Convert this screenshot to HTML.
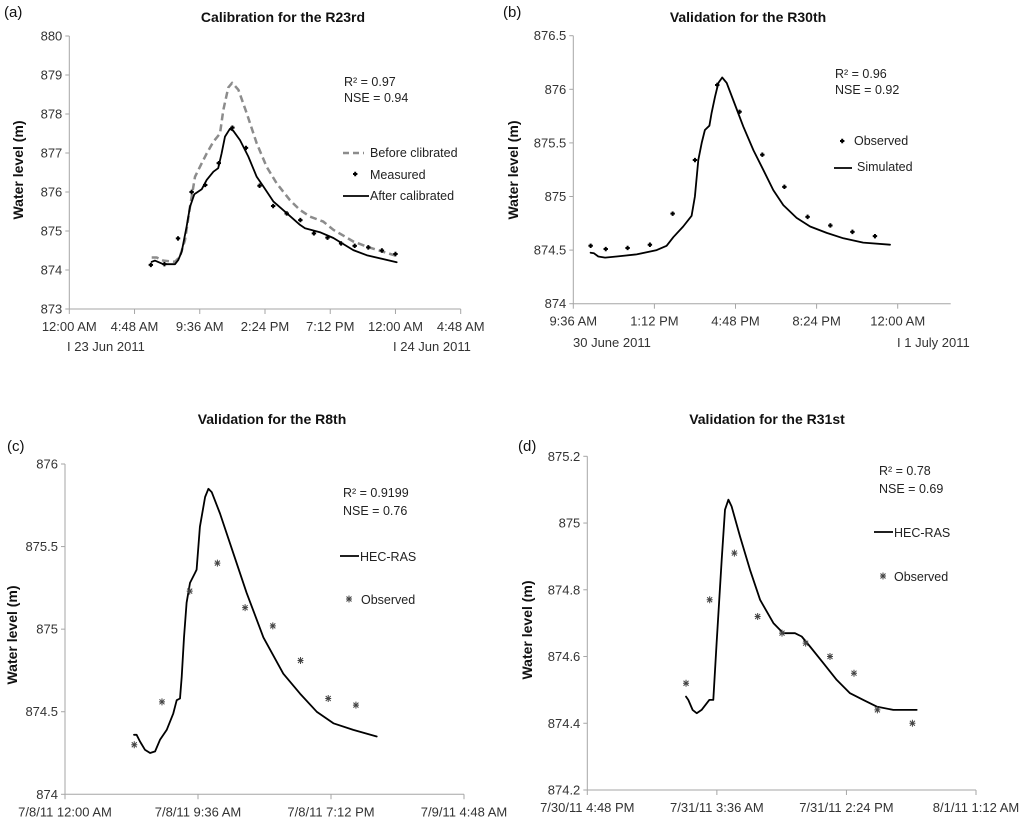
<!DOCTYPE html>
<html><head><meta charset="utf-8"><style>
body{margin:0;background:#fff}
svg{display:block;font-family:"Liberation Sans",Arial,sans-serif}
.tk{font-size:13px;fill:#333}
.ti{font-size:14px;font-weight:bold;fill:#111}
.yt{font-size:14px;font-weight:bold;fill:#111}
.lg{font-size:12.5px;fill:#222}
</style></head><body>
<svg id="chart" width="1024" height="820" viewBox="0 0 1024 820"></svg>
<script>
// Panel (a)
const aXTicks=["12:00 AM","4:48 AM","9:36 AM","2:24 PM","7:12 PM","12:00 AM","4:48 AM"];
const aYTicks=[873,874,875,876,877,878,879,880];
const aMeasH=[6,7,8,9,10,11,12,13,14,15,16,17,18,19,20,21,22,23,24];
const aMeasV=[874.13,874.15,874.81,876.0,876.18,876.74,877.65,877.13,876.16,875.64,875.45,875.28,874.94,874.83,874.68,874.62,874.58,874.50,874.41];
const aAfterH=[6.06,6.30,6.92,7.78,8.02,8.27,8.63,8.88,9.20,9.74,10.11,10.60,10.96,11.21,11.46,11.82,12.07,12.56,13.17,13.79,14.28,15.01,15.99,16.97,17.34,18.44,19.43,20.90,21.88,24.09];
const aAfterV=[874.21,874.24,874.15,874.15,874.26,874.47,875.11,875.62,875.94,876.07,876.31,876.52,876.61,876.99,877.42,877.62,877.57,877.33,876.91,876.39,876.14,875.76,875.46,875.16,875.07,874.97,874.82,874.51,874.38,874.20];
const aBeforeH=[6.06,6.43,6.92,7.78,8.14,8.51,8.88,9.25,9.62,10.11,10.60,11.09,11.33,11.70,11.99,12.44,13.05,13.79,14.52,15.26,16.24,16.97,17.71,18.69,19.43,20.90,21.88,24.09];
const aBeforeV=[874.32,874.32,874.24,874.21,874.34,874.77,875.62,876.39,876.65,876.99,877.29,877.50,878.10,878.68,878.80,878.62,878.02,877.25,876.65,876.22,875.79,875.54,875.37,875.24,875.03,874.73,874.60,874.36];
// Panel (b)
const bXTicks=["9:36 AM","1:12 PM","4:48 PM","8:24 PM","12:00 AM"];
const bYTicks=[874,874.5,875,875.5,876,876.5];
const bObsH=[0.77,1.44,2.41,3.40,4.41,5.40,6.39,7.38,8.39,9.37,10.40,11.41,12.39,13.39];
const bObsV=[874.54,874.51,874.52,874.55,874.84,875.34,876.04,875.79,875.39,875.09,874.81,874.73,874.67,874.63];
const bSimH=[0.77,0.92,1.11,1.41,1.92,2.81,3.70,4.14,4.44,4.88,5.25,5.40,5.55,5.70,5.84,6.04,6.14,6.29,6.44,6.61,6.81,7.10,7.55,8.00,8.43,8.88,9.32,9.91,10.51,11.25,11.99,12.87,14.06];
const bSimV=[874.476,874.47,874.44,874.43,874.44,874.46,874.50,874.54,874.62,874.72,874.82,875.00,875.34,875.50,875.62,875.66,875.78,875.93,876.06,876.11,876.06,875.90,875.65,875.43,875.25,875.06,874.92,874.80,874.72,874.66,874.61,874.57,874.55];
// Panel (c)
const cXTicks=["7/8/11 12:00 AM","7/8/11 9:36 AM","7/8/11 7:12 PM","7/9/11 4:48 AM"];
const cYTicks=[874,874.5,875,875.5,876];
const cObsH=[5,7,9,11,13,15,17,19,21];
const cObsV=[874.30,874.56,875.23,875.40,875.13,875.02,874.81,874.58,874.54];
const cSimH=[4.98,5.17,5.41,5.77,6.14,6.50,6.86,7.34,7.82,8.06,8.30,8.42,8.59,8.78,9.02,9.38,9.50,9.74,10.11,10.35,10.59,11.19,12.15,13.11,14.32,15.76,16.96,18.17,19.37,20.81,22.50];
const cSimV=[874.36,874.36,874.32,874.27,874.25,874.26,874.33,874.39,874.49,874.57,874.58,874.71,874.95,875.16,875.28,875.34,875.36,875.62,875.80,875.85,875.83,875.70,875.46,875.22,874.95,874.73,874.61,874.50,874.43,874.39,874.35];
// Panel (d)
const dXTicks=["7/30/11 4:48 PM","7/31/11 3:36 AM","7/31/11 2:24 PM","8/1/11 1:12 AM"];
const dYTicks=[874.2,874.4,874.6,874.8,875,875.2];
const dObsH=[8.23,10.20,12.26,14.20,16.23,18.20,20.23,22.23,24.18,27.10];
const dObsV=[874.52,874.77,874.91,874.72,874.67,874.64,874.60,874.55,874.44,874.40];
const dSimH=[8.23,8.42,8.78,9.12,9.53,10.17,10.50,10.78,11.20,11.48,11.76,12.03,12.73,13.56,14.40,15.51,16.34,17.31,17.87,18.56,19.68,20.79,21.90,23.01,24.12,25.51,27.46];
const dSimV=[874.48,874.47,874.44,874.43,874.44,874.47,874.47,874.64,874.89,875.04,875.07,875.05,874.96,874.86,874.77,874.70,874.67,874.67,874.66,874.63,874.58,874.53,874.49,874.47,874.45,874.44,874.44];

const NS="http://www.w3.org/2000/svg";
const svg=document.getElementById('chart');
function mk(tag,attrs,parent,text){const e=document.createElementNS(NS,tag);for(const k in attrs)e.setAttribute(k,attrs[k]);if(text!==undefined)e.textContent=text;(parent||svg).appendChild(e);return e;}

function panel(p){
  const g=mk('g',{});
  
  
  const sx=h=>p.x0+(h-p.h0)/(p.h1-p.h0)*(p.x1-p.x0);
  const sy=v=>p.y1-(v-p.v0)/(p.v1-p.v0)*(p.y1-p.y0);
  const ax=mk('path',{d:`M${p.x0},${p.y0}V${p.y1}H${p.xr}`,fill:'none',stroke:'#a6a6a6','stroke-width':1},g);
  
  
  p.yTicks.forEach(v=>{
    mk('line',{x1:p.x0-4,x2:p.x0,y1:sy(v),y2:sy(v),stroke:'#a6a6a6'},g);
    const t=mk('text',{x:p.x0-7,y:sy(v)+4.5,'text-anchor':'end',class:'tk'},g,String(v));
    
    
  });
  p.xTicks.forEach((lab,i)=>{
    const h=p.h0+i*p.step, x=sx(h);
    mk('line',{x1:x,x2:x,y1:p.y1,y2:p.y1+5,stroke:'#a6a6a6'},g);
    const t=mk('text',{x:x,y:p.y1+p.xlabDy,'text-anchor':'middle',class:'tk'},g,lab);
    
    
  });
  const title=mk('text',{x:p.tx,y:p.ty,'text-anchor':'middle',class:'ti'},g,p.title);
  
  
  const yt=mk('text',{x:0,y:0,transform:`translate(${p.ytx},${p.yty}) rotate(-90)`,'text-anchor':'middle',class:'yt'},g,'Water level (m)');
  
  
  const pl=mk('text',{x:p.lx,y:p.ly,style:'font-size:15px;fill:#111'},g,p.label);
  
  
  return {g,sx,sy};
}
function line(P,H,V,attrs,name){
  const d=H.map((h,i)=>(i?'L':'M')+P.sx(h).toFixed(1)+','+P.sy(V[i]).toFixed(1)).join('');
  const e=mk('path',Object.assign({d,fill:'none','stroke-linejoin':'round','stroke-linecap':'round'},attrs),P.g);
  
  
}
function dots(P,H,V,name){
  H.forEach((h,i)=>{const e=mk('path',{d:`M${P.sx(h)-2.2},${P.sy(V[i])}h4.4M${P.sx(h)},${P.sy(V[i])-2.2}v4.4`,stroke:'#000','stroke-width':2},P.g);
    
    });
}
function starPath(x,y){return `M${x-3},${y}h6M${x},${y-3.5}v7M${x-2.5},${y-2.5}l5,5M${x+2.5},${y-2.5}l-5,5`;}
function stars(P,H,V,name){
  H.forEach((h,i)=>{const e=mk('path',{d:starPath(P.sx(h),P.sy(V[i])),stroke:'#444','stroke-width':1},P.g);
    
    });
}
function txt(g,x,y,s,name,cls){const t=mk('text',{x,y,class:cls||'lg'},g,s);
  
  return t;}

// A
const A=panel({name:'panel-a',x0:69.3,x1:460.7,xr:460.7,h0:0,h1:28.8,step:4.8,y0:36,y1:309,v0:873,v1:880,yTicks:aYTicks,xTicks:aXTicks,xlabDy:22,title:'Calibration for the R23rd',tx:283,ty:22,ytx:23,yty:170,label:'(a)',lx:4,ly:17});
line(A,aBeforeH,aBeforeV,{stroke:'#8c8c8c','stroke-width':2.5,'stroke-dasharray':'7,4','stroke-linecap':'butt'},'before-calibrated-line');
line(A,aAfterH,aAfterV,{stroke:'#000','stroke-width':1.8},'after-calibrated-line');
dots(A,aMeasH,aMeasV,'measured-point');
txt(A.g,344,86,'R² = 0.97','r2-text');txt(A.g,344,102,'NSE = 0.94','nse-text');
mk('line',{x1:343,x2:364,y1:153,y2:153,stroke:'#8c8c8c','stroke-width':2.5,'stroke-dasharray':'6,4'},A.g);
txt(A.g,370,157,'Before clibrated','legend-before');
mk('path',{d:'M353,174h4.4M355.2,171.8v4.4',stroke:'#000','stroke-width':2},A.g);
txt(A.g,370,179,'Measured','legend-measured');
mk('line',{x1:343,x2:369,y1:196,y2:196,stroke:'#000','stroke-width':1.8},A.g);
txt(A.g,370,200,'After calibrated','legend-after');
txt(A.g,67,351,'I  23 Jun 2011','date-label-start','tk');
txt(A.g,393,351,'I  24 Jun 2011','date-label-end','tk');

// B
const B=panel({name:'panel-b',x0:573.3,x1:573.3+4.65*81.1,xr:950.7,h0:0,h1:16.74,step:3.6,y0:35.7,y1:303.7,v0:874,v1:876.5,yTicks:bYTicks,xTicks:bXTicks,xlabDy:22,title:'Validation for the R30th',tx:748,ty:22,ytx:518,yty:170,label:'(b)',lx:503,ly:17});
line(B,bSimH,bSimV,{stroke:'#000','stroke-width':1.8},'simulated-line');
dots(B,bObsH,bObsV,'observed-point');
txt(B.g,835,78,'R² = 0.96','r2-text');txt(B.g,835,94,'NSE = 0.92','nse-text');
mk('path',{d:'M840,141h4.4M842.2,138.8v4.4',stroke:'#000','stroke-width':2},B.g);
txt(B.g,854,145,'Observed','legend-observed');
mk('line',{x1:834,x2:852,y1:168,y2:168,stroke:'#000','stroke-width':1.8},B.g);
txt(B.g,857,171,'Simulated','legend-simulated');
txt(B.g,573,347,'30 June  2011','date-label-start','tk');
txt(B.g,897,347,'I  1 July  2011','date-label-end','tk');

// C
const C=panel({name:'panel-c',x0:65,x1:464,xr:464,h0:0,h1:28.8,step:9.6,y0:464,y1:794.3,v0:874,v1:876,yTicks:cYTicks,xTicks:cXTicks,xlabDy:22,title:'Validation for the R8th',tx:272,ty:424,ytx:17,yty:635,label:'(c)',lx:7,ly:451});
line(C,cSimH,cSimV,{stroke:'#000','stroke-width':1.8},'hec-ras-line');
stars(C,cObsH,cObsV,'observed-point');
txt(C.g,343,497,'R² = 0.9199','r2-text');txt(C.g,343,515,'NSE = 0.76','nse-text');
mk('line',{x1:340,x2:359,y1:556,y2:556,stroke:'#000','stroke-width':1.8},C.g);
txt(C.g,360,561,'HEC-RAS','legend-hec-ras');
mk('path',{d:starPath(349,599),stroke:'#444','stroke-width':1},C.g);
txt(C.g,361,604,'Observed','legend-observed');

// D
const D=panel({name:'panel-d',x0:587.3,x1:976,xr:976,h0:0,h1:32.4,step:10.8,y0:456.3,y1:790,v0:874.2,v1:875.2,yTicks:dYTicks,xTicks:dXTicks,xlabDy:22,title:'Validation for the R31st',tx:767,ty:424,ytx:532,yty:630,label:'(d)',lx:518,ly:451});
line(D,dSimH,dSimV,{stroke:'#000','stroke-width':1.8},'hec-ras-line');
stars(D,dObsH,dObsV,'observed-point');
txt(D.g,879,475,'R² = 0.78','r2-text');txt(D.g,879,493,'NSE = 0.69','nse-text');
mk('line',{x1:874,x2:893,y1:532,y2:532,stroke:'#000','stroke-width':1.8},D.g);
txt(D.g,894,537,'HEC-RAS','legend-hec-ras');
mk('path',{d:starPath(883,576),stroke:'#444','stroke-width':1},D.g);
txt(D.g,894,581,'Observed','legend-observed');
</script>
</body></html>
